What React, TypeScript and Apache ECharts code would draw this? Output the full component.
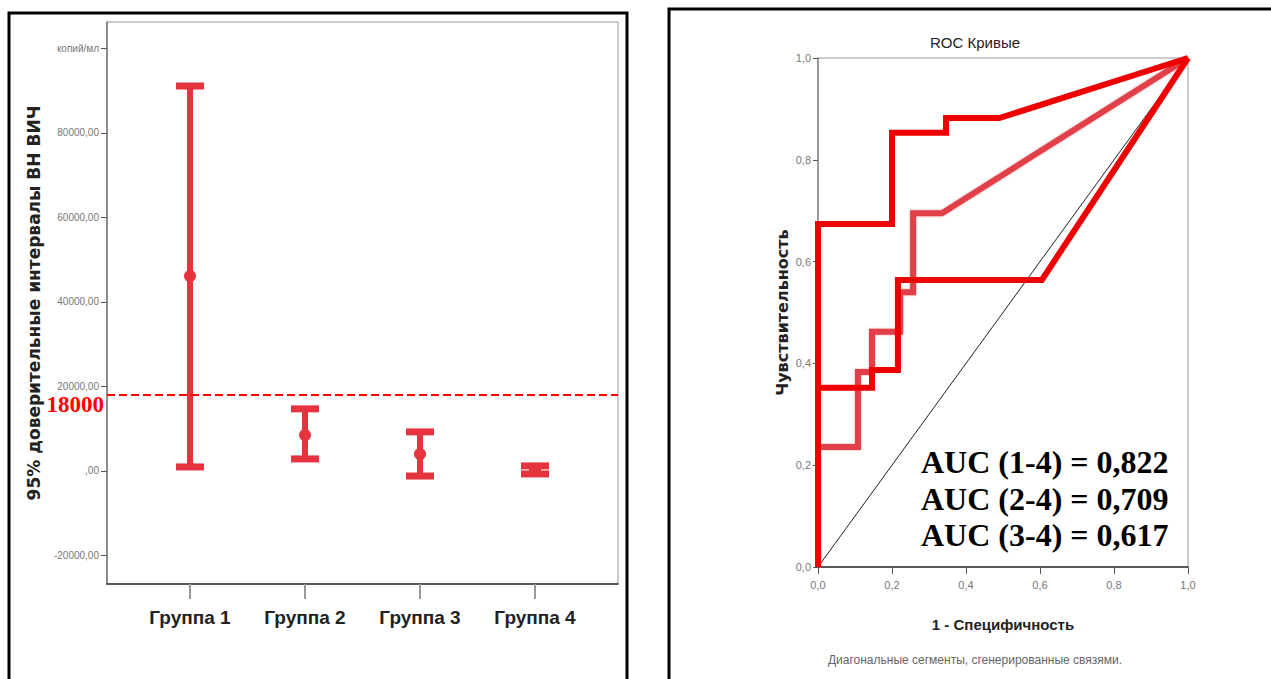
import React, { useEffect, useRef } from "react";
import * as echarts from "echarts";

// Error-bar panel: 95% confidence intervals of HIV viral load per group
const groups = ["Группа 1", "Группа 2", "Группа 3", "Группа 4"];
const groupPos = [1, 2, 3, 4];
const ciLower = [950, 2850, -1200, -700];
const ciMean = [46150, 8500, 4000, 250];
const ciUpper = [91100, 14700, 9250, 1200];
const yTicks = [-20000, 0, 20000, 40000, 60000, 80000, 100000];
const threshold = 18000;

// ROC panel: [1 - specificity, sensitivity]
const roc14 = [[0, 0], [0, 0.674], [0.2, 0.674], [0.2, 0.853], [0.346, 0.853], [0.346, 0.882], [0.49, 0.882], [1, 1]];
const roc24 = [[0, 0], [0, 0.236], [0.108, 0.236], [0.108, 0.383], [0.146, 0.383], [0.146, 0.462], [0.222, 0.462], [0.222, 0.54], [0.257, 0.54], [0.257, 0.695], [0.335, 0.695], [1, 1]];
const roc34 = [[0, 0], [0, 0.352], [0.146, 0.352], [0.146, 0.387], [0.216, 0.387], [0.216, 0.564], [0.605, 0.564], [1, 1]];
const diagonal = [[0, 0], [1, 1]];
const aucLabels = ["AUC (1-4) = 0,822", "AUC (2-4) = 0,709", "AUC (3-4) = 0,617"];

const BAR_RED = "#E5343E";
const NARROW = "'Liberation Sans Narrow', 'Arial Narrow', 'Liberation Sans', sans-serif";
const SERIF = "'Liberation Serif', 'Times New Roman', serif";

const fmtComma = (v: number) => {
  if (v === 0) return ",00";
  return `${v},00`;
};

export default function App() {
  const ref = useRef<HTMLDivElement>(null);

  useEffect(() => {
    if (!ref.current) return;
    const chart = echarts.init(ref.current, null, { renderer: "svg" });

    const barData = groupPos.map((p, i) => [p, ciLower[i], ciMean[i], ciUpper[i]]);

    const renderBar = (params: any, api: any) => {
      const x = api.value(0);
      const lo = api.coord([x, api.value(1)]);
      const mid = api.coord([x, api.value(2)]);
      const hi = api.coord([x, api.value(3)]);
      const capW = 28;
      const capH = 7;
      return {
        type: "group",
        children: [
          { type: "line", shape: { x1: hi[0], y1: hi[1], x2: lo[0], y2: lo[1] }, style: { stroke: BAR_RED, lineWidth: 6 } },
          { type: "rect", shape: { x: hi[0] - capW / 2, y: hi[1] - capH / 2, width: capW, height: capH }, style: { fill: BAR_RED } },
          { type: "rect", shape: { x: lo[0] - capW / 2, y: lo[1] - capH / 2, width: capW, height: capH }, style: { fill: BAR_RED } },
          { type: "circle", shape: { cx: mid[0], cy: mid[1], r: 6 }, style: { fill: BAR_RED } },
        ],
      };
    };

    const rocTick = (v: number) => v.toFixed(1).replace(".", ",");

    chart.setOption({
      animation: false,
      backgroundColor: "#fff",
      grid: [
        { left: 107, top: 22, width: 511, height: 562, show: true, borderColor: "#999", borderWidth: 1, backgroundColor: "transparent" },
        { left: 818, top: 58, width: 370, height: 509, show: true, borderColor: "#999", borderWidth: 1, backgroundColor: "transparent" },
      ],
      xAxis: [
        {
          gridIndex: 0,
          type: "value",
          min: 0.2783,
          max: 4.7217,
          splitLine: { show: false },
          axisLine: { show: true, onZero: false, lineStyle: { color: "#333", width: 1.5 } },
          axisTick: { show: true, customValues: groupPos, length: 15, lineStyle: { color: "#999", width: 2 } },
          axisLabel: {
            customValues: groupPos,
            formatter: (v: number) => groups[Math.round(v) - 1] ?? "",
            margin: 24,
            fontFamily: NARROW,
            fontWeight: "bold",
            fontSize: 19,
            color: "#222",
          },
        },
        {
          gridIndex: 1,
          type: "value",
          min: 0,
          max: 1,
          interval: 0.2,
          splitLine: { show: false },
          axisLine: { show: true, onZero: false, lineStyle: { color: "#333", width: 1.5 } },
          axisTick: { show: true, length: 7, lineStyle: { color: "#555" } },
          axisLabel: { formatter: rocTick, margin: 12, fontFamily: NARROW, fontSize: 11, color: "#777" },
          name: "1 - Специфичность",
          nameLocation: "middle",
          nameGap: 50,
          nameTextStyle: { fontFamily: NARROW, fontWeight: "bold", fontSize: 15, color: "#222" },
        },
      ],
      yAxis: [
        {
          gridIndex: 0,
          type: "value",
          min: -26750,
          max: 106250,
          splitLine: { show: false },
          axisLine: { show: true, onZero: false, lineStyle: { color: "#777", width: 1.5 } },
          axisTick: { show: true, customValues: yTicks, length: 6, lineStyle: { color: "#555" } },
          axisLabel: {
            customValues: yTicks,
            formatter: (v: number) => (v === 100000 ? "копий/мл" : fmtComma(v)),
            margin: 8,
            fontFamily: NARROW,
            fontSize: 10,
            color: "#777",
          },
          name: "95% доверительные интервалы ВН ВИЧ",
          nameLocation: "middle",
          nameGap: 65,
          nameRotate: 90,
          nameTextStyle: { fontFamily: "'DejaVu Sans', sans-serif", fontWeight: "bold", fontSize: 17, color: "#222" },
        },
        {
          gridIndex: 1,
          type: "value",
          min: 0,
          max: 1,
          interval: 0.2,
          splitLine: { show: false },
          axisLine: { show: true, onZero: false, lineStyle: { color: "#888", width: 1.5 } },
          axisTick: { show: true, length: 5, lineStyle: { color: "#555" } },
          axisLabel: { formatter: rocTick, margin: 7, fontFamily: NARROW, fontSize: 11, color: "#777" },
          name: "Чувствительность",
          nameLocation: "middle",
          nameGap: 28,
          nameRotate: 90,
          nameTextStyle: { fontFamily: "'DejaVu Sans', sans-serif", fontWeight: "bold", fontSize: 16, color: "#222" },
        },
      ],
      series: [
        {
          type: "custom",
          xAxisIndex: 0,
          yAxisIndex: 0,
          data: barData,
          renderItem: renderBar,
          z: 3,
          markLine: {
            silent: true,
            symbol: "none",
            lineStyle: { color: "#FF0000", type: [8, 4], width: 2 },
            label: {
              position: "start",
              distance: 3,
              offset: [0, 10],
              formatter: String(threshold),
              color: "#FF0000",
              fontFamily: SERIF,
              fontWeight: "bold",
              fontSize: 23,
            },
            data: [{ yAxis: threshold }],
          },
        },
        {
          type: "line",
          xAxisIndex: 1,
          yAxisIndex: 1,
          data: diagonal,
          showSymbol: false,
          lineStyle: { color: "#222", width: 1 },
          z: 2,
        },
        {
          type: "line",
          xAxisIndex: 1,
          yAxisIndex: 1,
          data: roc24,
          showSymbol: false,
          lineStyle: { color: "#E2404A", width: 6, join: "miter", shadowColor: "rgba(226,64,74,0.5)", shadowBlur: 2 },
          z: 3,
        },
        {
          type: "line",
          xAxisIndex: 1,
          yAxisIndex: 1,
          data: roc34,
          showSymbol: false,
          lineStyle: { color: "#EE0000", width: 6, join: "miter" },
          z: 4,
        },
        {
          type: "line",
          xAxisIndex: 1,
          yAxisIndex: 1,
          data: roc14,
          showSymbol: false,
          lineStyle: { color: "#EE0000", width: 6, join: "miter" },
          z: 5,
        },
      ],
      graphic: [
        { type: "rect", shape: { x: 9, y: 13, width: 618, height: 700 }, style: { fill: "none", stroke: "#000", lineWidth: 3 }, z: 10 },
        { type: "rect", shape: { x: 669, y: 9, width: 640, height: 700 }, style: { fill: "none", stroke: "#000", lineWidth: 3 }, z: 10 },
        {
          type: "text",
          x: 975,
          y: 42,
          style: { text: "ROC Кривые", fontFamily: NARROW, fontSize: 15, fill: "#222", textAlign: "center", textVerticalAlign: "middle" },
        },
        {
          type: "text",
          x: 975,
          y: 660,
          style: { text: "Диагональные сегменты, сгенерированные связями.", fontFamily: NARROW, fontSize: 12, fill: "#666", textAlign: "center", textVerticalAlign: "middle" },
        },
        ...aucLabels.map((t, i) => ({
          type: "text",
          x: 921,
          y: 462 + i * 36.5,
          z: 20,
          style: { text: t, fontFamily: SERIF, fontWeight: "bold", fontSize: 32, fill: "#000", textAlign: "left", textVerticalAlign: "middle" },
        })),
      ],
    });

    return () => chart.dispose();
  }, []);

  return <div ref={ref} style={{ position: "fixed", left: 0, top: 0, width: 1271, height: 679 }} />;
}
